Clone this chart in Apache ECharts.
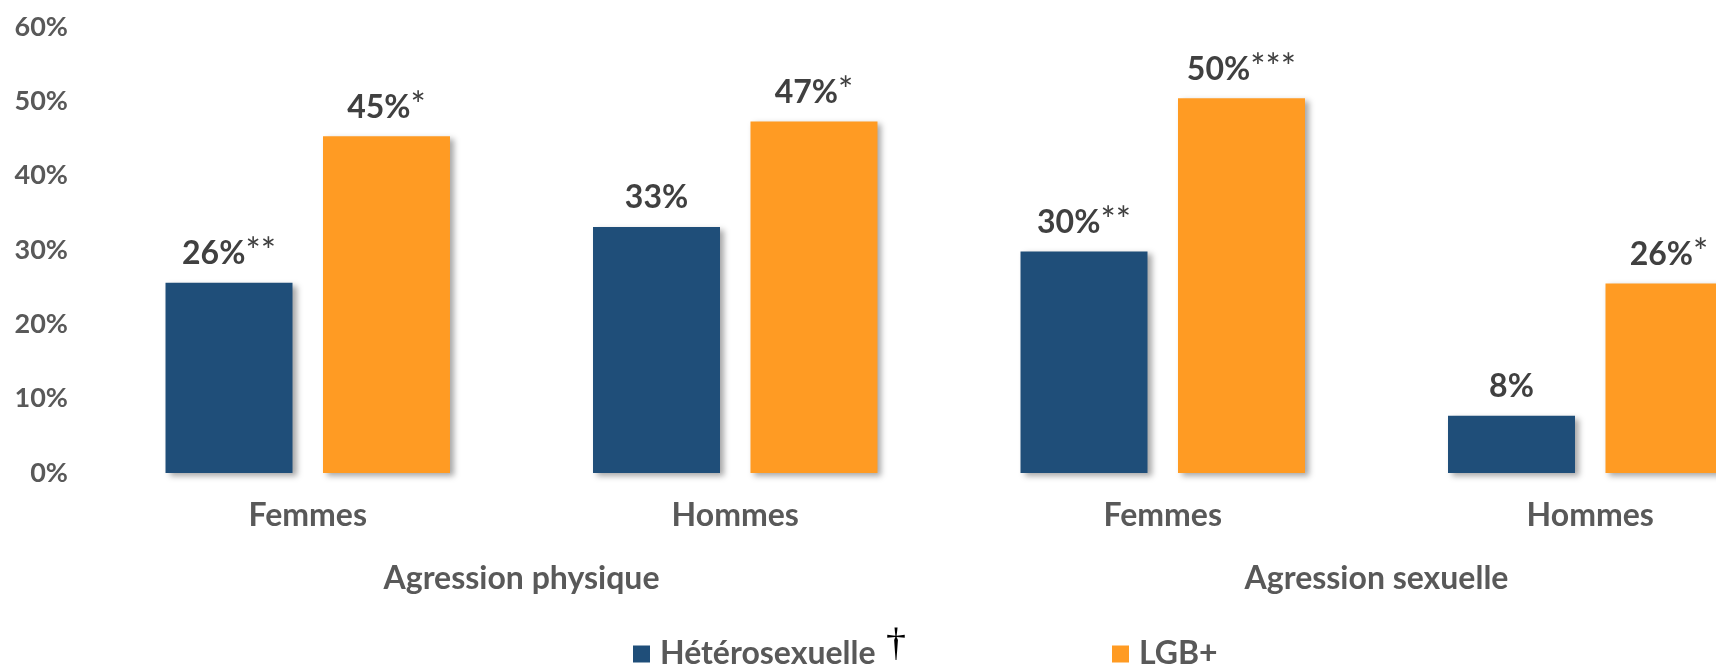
<!DOCTYPE html>
<html>
<head>
<meta charset="utf-8">
<script src="https://cdn.jsdelivr.net/npm/echarts@6/dist/echarts.min.js"></script>
<style>
  html, body { margin: 0; padding: 0; background: #fff; }
  #main { width: 1716px; height: 667px; }
</style>
</head>
<body>
<div id="main"></div>
<script>
// categories
var categories = ['Femmes', 'Hommes', 'Femmes', 'Hommes'];
var groups = ['Agression physique', 'Agression sexuelle'];
var seriesNames = ['Hétérosexuelle', 'LGB+'];

// values (%)
var heteroValues = [25.6, 33.1, 29.8, 7.7];
var lgbValues = [45.3, 47.3, 50.4, 25.5];

// labels printed above the bars
var heteroLabels = ['26%', '33%', '30%', '8%'];
var heteroStars = ['**', '', '**', ''];
var lgbLabels = ['45%', '47%', '50%', '26%'];
var lgbStars = ['*', '*', '***', '*'];

var FONT = 'Lato';
var AXIS_GREY = '#595959';
var LABEL_GREY = '#404040';
var BLUE = '#1F4E79';
var ORANGE = '#FF9B23';

var myChart = echarts.init(document.getElementById('main'));

function labelFormatter(labels, stars) {
  return function (p) {
    var s = stars[p.dataIndex];
    return '{v|' + labels[p.dataIndex] + '}' + (s ? '{s|' + s + '}' : '');
  };
}

var barLabel = function (labels, stars) {
  return {
    show: true,
    position: 'top',
    distance: 12,
    fontFamily: FONT,
    fontWeight: 'bold',
    fontSize: 32,
    color: LABEL_GREY,
    formatter: labelFormatter(labels, stars),
    rich: {
      v: { fontFamily: FONT, fontWeight: 'bold', fontSize: 32, lineHeight: 34, color: LABEL_GREY },
      s: { fontFamily: FONT, fontWeight: 'normal', fontSize: 36, lineHeight: 34, color: LABEL_GREY, padding: [0, 0, 2, 0] }
    }
  };
};

var shadow = {
  shadowColor: 'rgba(0,0,0,0.35)',
  shadowBlur: 6,
  shadowOffsetX: 4,
  shadowOffsetY: 3
};

var legendText = {
  fontFamily: FONT,
  fontWeight: 'bold',
  fontSize: 32,
  lineHeight: 32,
  color: AXIS_GREY,
  padding: [0, 0, 0, 5]
};

var option = {
  animation: false,
  legend: [
    {
      data: [seriesNames[0]],
      left: 633,
      top: 638,
      padding: 0,
      itemWidth: 17,
      itemHeight: 17,
      icon: 'rect',
      textStyle: legendText
    },
    {
      data: [seriesNames[1]],
      left: 1112,
      top: 638,
      padding: 0,
      itemWidth: 17,
      itemHeight: 17,
      icon: 'rect',
      textStyle: legendText
    }
  ],
  // the dagger that follows the first legend entry
  graphic: [
    {
      type: 'text',
      left: 886,
      top: 624,
      style: {
        text: '†',
        fontFamily: 'Liberation Serif',
        fontSize: 40,
        fill: '#000'
      }
    }
  ],
  grid: {
    left: 94,
    right: -88,
    top: 27,
    bottom: 194,
    outerBoundsMode: 'none',
    containLabel: false
  },
  xAxis: [
    {
      type: 'category',
      data: categories,
      axisLine: { show: false },
      axisTick: { show: false },
      axisLabel: {
        margin: 27,
        fontFamily: FONT,
        fontWeight: 'bold',
        fontSize: 32,
        lineHeight: 32,
        color: AXIS_GREY
      }
    },
    {
      type: 'category',
      data: groups,
      position: 'bottom',
      axisLine: { show: false },
      axisTick: { show: false },
      axisLabel: {
        margin: 90,
        fontFamily: FONT,
        fontWeight: 'bold',
        fontSize: 32,
        lineHeight: 32,
        color: AXIS_GREY
      }
    }
  ],
  yAxis: {
    type: 'value',
    min: 0,
    max: 60,
    interval: 10,
    axisLine: { show: false },
    axisTick: { show: false },
    splitLine: { show: false },
    axisLabel: {
      margin: 26,
      fontFamily: FONT,
      fontWeight: 'bold',
      fontSize: 27,
      color: AXIS_GREY,
      formatter: '{value}%'
    }
  },
  series: [
    {
      name: seriesNames[0],
      type: 'bar',
      xAxisIndex: 0,
      data: heteroValues,
      barWidth: 127,
      barGap: '24%',
      itemStyle: Object.assign({ color: BLUE }, shadow),
      label: barLabel(heteroLabels, heteroStars)
    },
    {
      name: seriesNames[1],
      type: 'bar',
      xAxisIndex: 0,
      data: lgbValues,
      barWidth: 127,
      barGap: '24%',
      itemStyle: Object.assign({ color: ORANGE }, shadow),
      label: barLabel(lgbLabels, lgbStars)
    }
  ]
};

myChart.setOption(option);
</script>
</body>
</html>
